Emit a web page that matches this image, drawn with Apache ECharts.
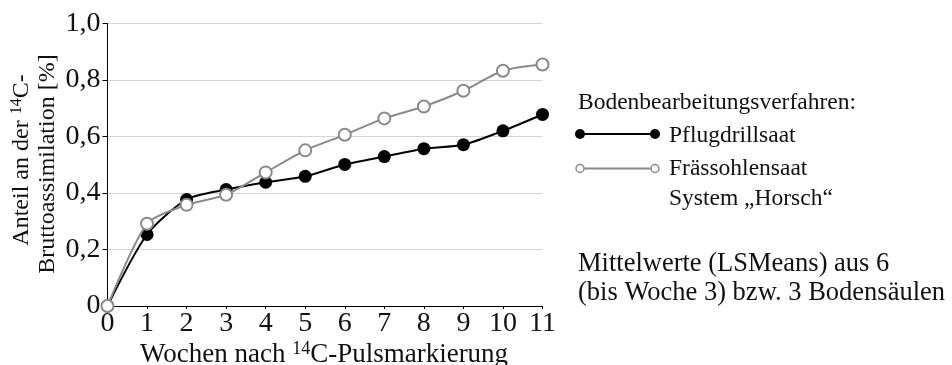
<!DOCTYPE html>
<html><head><meta charset="utf-8">
<script src="https://cdn.jsdelivr.net/npm/echarts@6/dist/echarts.min.js"></script>
<style>html,body{margin:0;padding:0;background:#fff}#c{width:952px;height:365px}</style>
</head><body><div id="c"></div>
<script>
const weeks = ['0','1','2','3','4','5','6','7','8','9','10','11'];
const pflugdrillsaat = [0, 0.253, 0.377, 0.412, 0.438, 0.459, 0.501, 0.529, 0.557, 0.571, 0.620, 0.678];
const fraessohlensaat = [0, 0.291, 0.358, 0.394, 0.473, 0.551, 0.606, 0.664, 0.706, 0.762, 0.833, 0.855];
const yTicks = [0, 0.2, 0.4, 0.6, 0.8, 1.0];

const F = 'Liberation Serif';
const chart = echarts.init(document.getElementById('c'));
const sup = (fs) => ({fontFamily: F, fontSize: fs, verticalAlign: 'top', padding: [0,0,Math.round(fs*0.6),0], fill: '#111'});
chart.setOption({
  animation: false,
  backgroundColor: '#fff',
  grid: {left: 107.5, right: 409.5, top: 23.5, bottom: 59},
  xAxis: {
    type: 'category', data: weeks, boundaryGap: false,
    axisLine: {lineStyle: {color: '#000', width: 1}},
    axisTick: {show: true, length: 3, lineStyle: {color: '#000'}},
    axisLabel: {color: '#111', fontFamily: F, fontSize: 28, margin: 4}
  },
  yAxis: {
    type: 'value', min: 0, max: 1, interval: 0.2,
    axisLine: {show: true, lineStyle: {color: '#000', width: 1}},
    axisTick: {show: true, length: 5, lineStyle: {color: '#000'}},
    splitLine: {lineStyle: {color: '#d4d4d4', width: 1}},
    axisLabel: {color: '#111', fontFamily: F, fontSize: 28, margin: 7,
      formatter: v => v === 0 ? '0' : v.toFixed(1).replace('.', ',')}
  },
  series: [
    {name: 'Pflugdrillsaat', type: 'line', data: pflugdrillsaat, smooth: 0.25,
     symbol: 'circle', symbolSize: 13, z: 2,
     lineStyle: {color: '#000', width: 2}, itemStyle: {color: '#000'}},
    {name: 'Frässohlensaat System „Horsch“', type: 'line', data: fraessohlensaat, smooth: 0.25,
     symbol: 'circle', symbolSize: 12, z: 3,
     lineStyle: {color: '#8a8a8a', width: 2},
     itemStyle: {color: '#fff', borderColor: '#8a8a8a', borderWidth: 2}}
  ],
  graphic: [
    {type: 'text', x: 22, y: 160, rotation: Math.PI/2, style: {
      text: 'Anteil an der {s|14}C-', rich: {s: sup(16)},
      fontFamily: F, fontSize: 24, fill: '#111', align: 'center', verticalAlign: 'middle'}},
    {type: 'text', x: 48, y: 164, rotation: Math.PI/2, style: {
      text: 'Bruttoassimilation [%]',
      fontFamily: F, fontSize: 24, fill: '#111', align: 'center', verticalAlign: 'middle'}},
    {type: 'text', x: 324, y: 355, style: {
      text: 'Wochen nach {s|14}C-Pulsmarkierung', rich: {s: sup(18)},
      fontFamily: F, fontSize: 27, fill: '#111', align: 'center', verticalAlign: 'middle'}},
    {type: 'text', x: 578, y: 103, style: {text: 'Bodenbearbeitungsverfahren:', fontFamily: F, fontSize: 23.5, fill: '#111', verticalAlign: 'middle'}},
    {type: 'line', shape: {x1: 580, y1: 134, x2: 655, y2: 134}, style: {stroke: '#000', lineWidth: 2}},
    {type: 'circle', shape: {cx: 580, cy: 134, r: 5}, style: {fill: '#000'}},
    {type: 'circle', shape: {cx: 655, cy: 134, r: 5}, style: {fill: '#000'}},
    {type: 'text', x: 669, y: 136, style: {text: 'Pflugdrillsaat', fontFamily: F, fontSize: 23.5, fill: '#111', verticalAlign: 'middle'}},
    {type: 'line', shape: {x1: 580, y1: 168.5, x2: 655, y2: 168.5}, style: {stroke: '#8a8a8a', lineWidth: 2}},
    {type: 'circle', shape: {cx: 580, cy: 168.5, r: 4}, style: {fill: '#fff', stroke: '#8a8a8a', lineWidth: 1.5}},
    {type: 'circle', shape: {cx: 655, cy: 168.5, r: 4}, style: {fill: '#fff', stroke: '#8a8a8a', lineWidth: 1.5}},
    {type: 'text', x: 669, y: 169, style: {text: 'Frässohlensaat', fontFamily: F, fontSize: 23.5, fill: '#111', verticalAlign: 'middle'}},
    {type: 'text', x: 669, y: 199, style: {text: 'System „Horsch“', fontFamily: F, fontSize: 23.5, fill: '#111', verticalAlign: 'middle'}},
    {type: 'text', x: 578, y: 264, style: {text: 'Mittelwerte (LSMeans) aus 6', fontFamily: F, fontSize: 26.5, fill: '#111', verticalAlign: 'middle'}},
    {type: 'text', x: 578, y: 293, style: {text: '(bis Woche 3) bzw. 3 Bodensäulen', fontFamily: F, fontSize: 26.5, fill: '#111', verticalAlign: 'middle'}}
  ]
});
</script></body></html>
